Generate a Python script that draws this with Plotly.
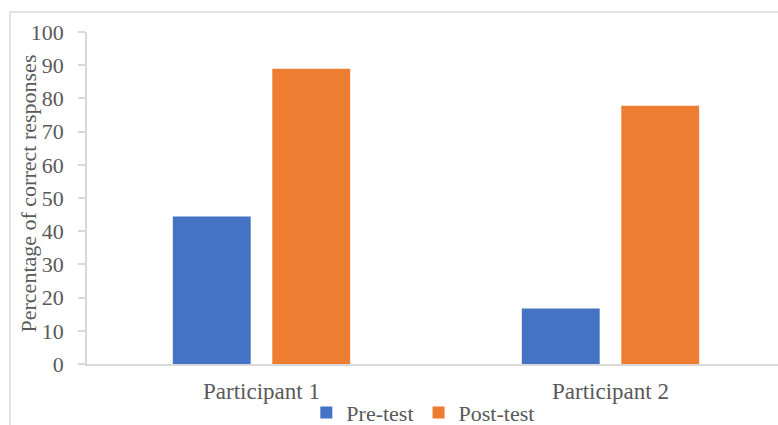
import plotly.graph_objects as go

categories = ["Participant 1", "Participant 2"]
pre_test = [44.4, 16.7]
post_test = [88.9, 77.8]
y_ticks = [0, 10, 20, 30, 40, 50, 60, 70, 80, 90, 100]
y_title = "Percentage of correct responses"

FONT = "Liberation Serif"
TEXT = "#595959"
LINE = "#d9d9d9"

fig = go.Figure()
fig.add_trace(go.Bar(name="Pre-test", x=categories, y=pre_test,
                     marker=dict(color="#4472c4", line=dict(width=0))))
fig.add_trace(go.Bar(name="Post-test", x=categories, y=post_test,
                     marker=dict(color="#ed7d31", line=dict(width=0))))

fig.update_layout(
    width=778, height=425,
    margin=dict(l=87, r=0, t=32, b=61, autoexpand=False),
    paper_bgcolor="white", plot_bgcolor="white",
    font=dict(family=FONT, color=TEXT, size=22),
    barmode="group", bargap=0.43, bargroupgap=0.217,
    showlegend=True,
    legend=dict(orientation="h", x=0.486, xanchor="center",
                yref="paper", y=-0.147, yanchor="middle",
                bgcolor="rgba(0,0,0,0)",
                font=dict(size=22, color=TEXT, family=FONT), itemwidth=30,
                traceorder="normal", tracegroupgap=0),
    shapes=[dict(type="rect", xref="paper", yref="paper",
                 x0=-0.1114, y0=-0.3, x1=1.05, y1=1.0602,
                 line=dict(color="#e3e3e3", width=2), layer="below")],
    annotations=[dict(text=y_title, textangle=-90, xref="paper", yref="paper",
                      x=-0.0854, y=0.5136, xanchor="center", yanchor="middle",
                      showarrow=False, font=dict(size=22, color=TEXT, family=FONT))],
)

fig.update_xaxes(
    range=[-0.5, 1.48], showline=True, linecolor=LINE, linewidth=1.5,
    showgrid=False, ticks="", ticklabelstandoff=6,
    tickfont=dict(size=23, color=TEXT, family=FONT),
    fixedrange=True,
)
fig.update_yaxes(
    range=[0, 100], tickvals=y_ticks, showline=True, linecolor=LINE, linewidth=1.5,
    showgrid=False, zeroline=False, ticks="outside", ticklen=7, tickcolor=LINE, tickwidth=1.5,
    ticklabelstandoff=10,
    tickfont=dict(size=22, color=TEXT, family=FONT),
    fixedrange=True,
)

fig.write_html("out.html")
